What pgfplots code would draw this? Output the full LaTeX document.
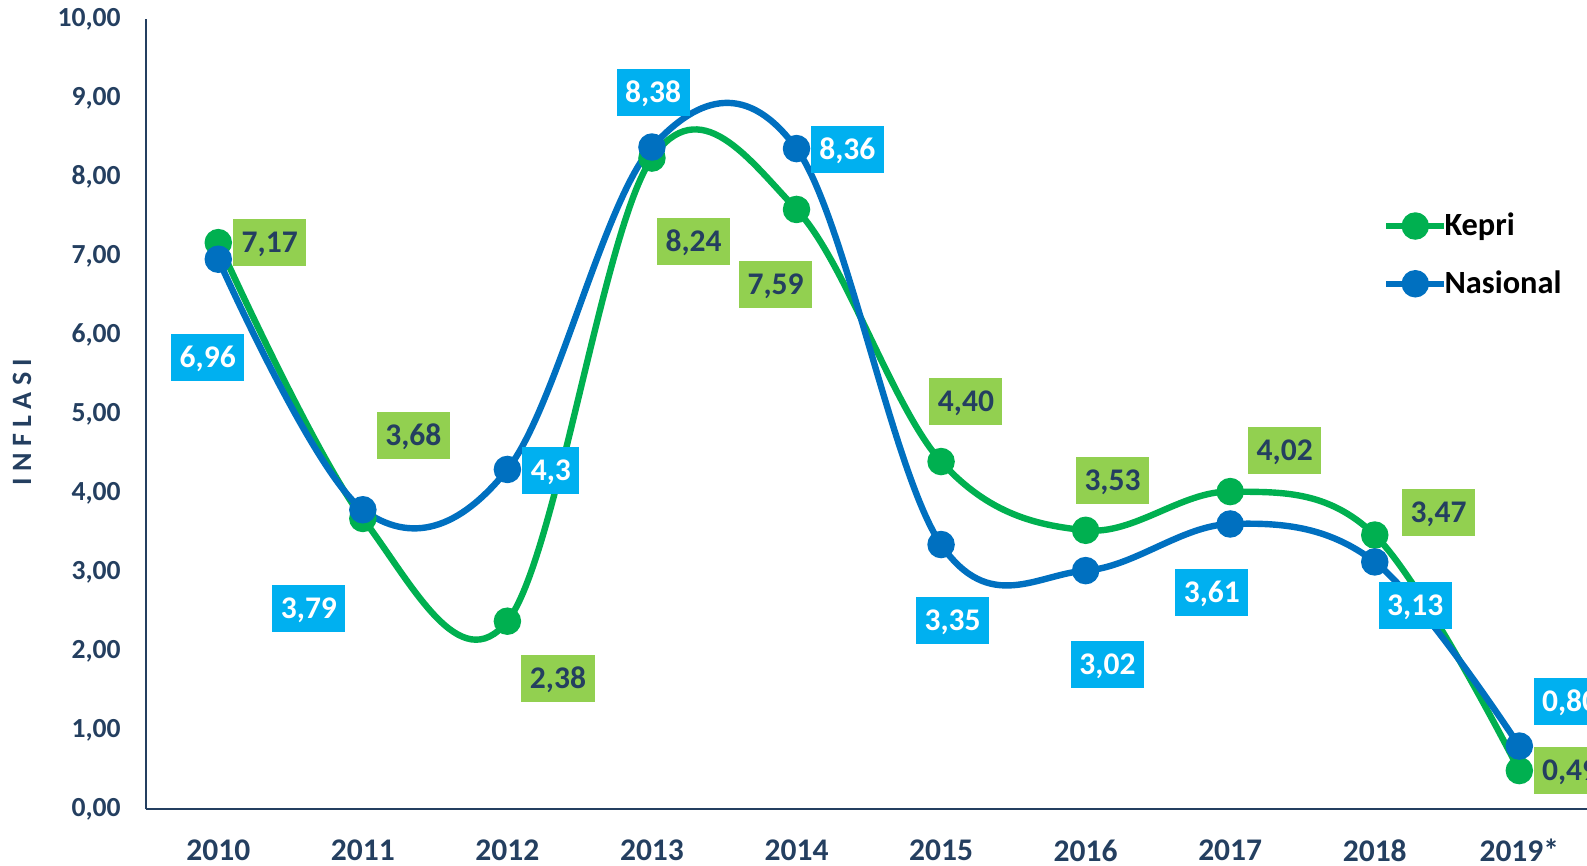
\documentclass[border=0pt]{standalone}
\usepackage{fontspec}
\setmainfont{Carlito}
\usepackage{pgfplots}
\pgfplotsset{compat=1.18}
\definecolor{navy}{HTML}{243F60}
\definecolor{kgreen}{HTML}{00B050}
\definecolor{kbox}{HTML}{92D050}
\definecolor{nblue}{HTML}{0070C0}
\definecolor{nbox}{HTML}{00B0F0}
\tikzset{
  lab/.style={font=\fontsize{15.75}{18}\selectfont\bfseries, inner xsep=4.25pt, inner ysep=0pt,
    text height=9.95pt, text depth=0pt, minimum height=23.5pt},
  kl/.style={lab, fill=kbox, text=navy},
  nl/.style={lab, fill=nbox, text=white},
}
\begin{document}
\begin{tikzpicture}
\begin{axis}[
  at={(73pt,28.35pt)}, anchor=south west,
  scale only axis, width=722.8pt, height=395.15pt,
  xmin=2009.5, xmax=2019.5, ymin=0, ymax=10,
  axis x line=bottom, axis y line=left,
  axis line style={navy, line width=1.1pt, -},
  xtick={2010,2011,2012,2013,2014,2015,2016,2017,2018,2019},
  xticklabels={2010,2011,2012,2013,2014,2015,2016,2017,2018,2019*},
  ytick={0,1,2,3,4,5,6,7,8,9,10},
  major tick length=0pt,
  xticklabel style={font=\fontsize{15.75}{18}\selectfont\bfseries, text=navy, anchor=center, yshift=-20.6pt},
  yticklabel style={font=\fontsize{13.8}{16}\selectfont\bfseries, text=navy, anchor=east, inner sep=0pt, xshift=-12.5pt},
  yticklabel={\pgfmathprintnumber[fixed, fixed zerofill, precision=2, use comma, assume math mode=true]{\tick}},
  ylabel={INFLASI},
  ylabel style={at={(axis description cs:-0.0858,0.490)}, anchor=center, rotate=0,
    font=\fontsize{14}{16}\selectfont\bfseries\addfontfeatures{LetterSpace=23}, text=navy},
  clip=false,
  legend image code/.code={\draw[mark repeat=2,mark phase=2,#1] plot coordinates {(0pt,0pt) (14.5pt,0pt) (29pt,0pt)};},
  legend style={draw=none, fill=none, at={(axis description cs:0.8555,0.7015)}, anchor=west,
    font=\fontsize{16.2}{18}\selectfont\bfseries, text=black, inner sep=0pt, column sep=-1.5pt, row sep=16pt,
    nodes={inner sep=0pt}},
  legend cell align=left,
]
\addplot[kgreen, line width=3.2pt, smooth, tension=0.6, mark=*, mark size=5.25pt,
  mark options={solid, fill=kgreen, draw=none}] coordinates {
  (2010,7.17) (2011,3.68) (2012,2.38) (2013,8.24) (2014,7.59)
  (2015,4.40) (2016,3.53) (2017,4.02) (2018,3.47) (2019,0.49)};
\addlegendentry{Kepri}
\addplot[nblue, line width=3.2pt, smooth, tension=0.6, mark=*, mark size=5.25pt,
  mark options={solid, fill=nblue, draw=none}] coordinates {
  (2010,6.96) (2011,3.79) (2012,4.30) (2013,8.38) (2014,8.36)
  (2015,3.35) (2016,3.02) (2017,3.61) (2018,3.13) (2019,0.80)};
\addlegendentry{Nasional}
% Kepri labels
\node[kl] at (axis cs:2010.356,7.166) {7,17};
\node[kl] at (axis cs:2011.349,4.73) {3,68};
\node[kl] at (axis cs:2012.35,1.66) {2,38};
\node[kl] at (axis cs:2013.288,7.18) {8,24};
\node[kl] at (axis cs:2013.855,6.64) {7,59};
\node[kl] at (axis cs:2015.172,5.16) {4,40};
\node[kl] at (axis cs:2016.186,4.16) {3,53};
\node[kl] at (axis cs:2017.377,4.54) {4,02};
\node[kl] at (axis cs:2018.441,3.75) {3,47};
\node[kl] at (axis cs:2019.351,0.49) {0,49};
% Nasional labels
\node[nl] at (axis cs:2009.927,5.72) {6,96};
\node[nl] at (axis cs:2010.627,2.54) {3,79};
\node[nl] at (axis cs:2012.301,4.29) {4,3};
\node[nl] at (axis cs:2013.008,9.07) {8,38};
\node[nl] at (axis cs:2014.352,8.35) {8,36};
\node[nl] at (axis cs:2015.08,2.39) {3,35};
\node[nl] at (axis cs:2016.151,1.83) {3,02};
\node[nl] at (axis cs:2016.873,2.74) {3,61};
\node[nl] at (axis cs:2018.28,2.58) {3,13};
\node[nl] at (axis cs:2019.351,1.36) {0,80};
\end{axis}
\pgfresetboundingbox
\useasboundingbox (0,0) rectangle (793.5pt,433pt);
\end{tikzpicture}
\end{document}
